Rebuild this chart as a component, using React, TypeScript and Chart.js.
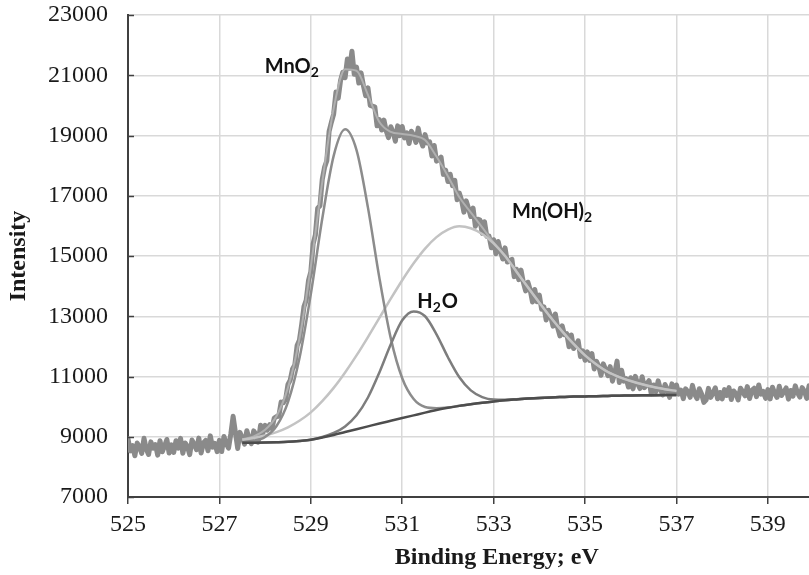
import React, { useEffect, useRef } from "react";
import { Chart, registerables } from "chart.js";

Chart.register(...registerables);

// Axis ticks
const X_TICKS = [525, 527, 529, 531, 533, 535, 537, 539];
const Y_TICKS = [7000, 9000, 11000, 13000, 15000, 17000, 19000, 21000, 23000];

// Measured spectrum: 525.00 eV to 540.00 eV, one reading every 0.05 eV (one row = 1 eV)
const SPECTRUM_START = 525;
const SPECTRUM_STEP = 0.05;
const SPECTRUM = [
  8930, 8530, 8710, 8370, 8790, 8670, 8450, 8950, 8590, 8410, 8830, 8620, 8740, 8390, 8870, 8500, 8690, 8910, 8460, 8730,
  8480, 8865, 8620, 8945, 8450, 8795, 8680, 8405, 8890, 8745, 8570, 8955, 8460, 8795, 8880, 8535, 9030, 8655, 8780, 8505,
  8880, 8510, 9010, 8770, 8620, 9095, 9680, 9145, 8610, 9145, 8970, 8755, 9200, 8925, 8770, 9195, 9070, 8820, 9380, 9115,
  9380, 9220, 9400, 9270, 9620, 9670, 9680, 10150, 10130, 10250, 10740, 10880, 11250, 11380, 12030, 12200, 12720, 13320, 13540, 14190,
  14470, 15400, 15700, 16590, 16670, 17540, 17940, 18160, 19140, 19440, 19710, 20440, 20240, 20820, 21100, 20920, 21540, 21230, 21800, 21030,
  21270, 20740, 21080, 20660, 20320, 20580, 20000, 19970, 19950, 19320, 19530, 19180, 19510, 19150, 18930, 19290, 19110, 18810, 19320, 18995,
  19300, 18920, 19090, 18735, 19140, 19005, 18770, 19245, 18860, 18650, 19030, 18750, 18790, 18320, 18670, 18150, 18190, 18280, 17710, 17850,
  17470, 17715, 17330, 17510, 16870, 17085, 16840, 16455, 16830, 16585, 16310, 16590, 15990, 16220, 16200, 15750, 16140, 15650, 15660, 15275,
  15540, 15075, 15480, 15145, 14900, 15270, 14800, 14845, 14890, 14315, 14560, 14215, 14530, 14125, 13840, 14130, 13870, 13475, 13890, 13480,
  13700, 13230, 13310, 12875, 13200, 12985, 12670, 13075, 12620, 12350, 12680, 12385, 12420, 11985, 12380, 11930, 12040, 12185, 11660, 11855,
  11540, 11820, 11535, 11760, 11250, 11505, 11340, 11040, 11420, 11235, 11025, 11330, 10845, 11110, 11510, 10800, 11210, 10845, 10925, 10650,
  10960, 10590, 11005, 10760, 10600, 10990, 10630, 10745, 10860, 10420, 10720, 10490, 10855, 10570, 10390, 10735, 10580, 10305, 10755, 10465,
  10720, 10415, 10550, 10265, 10590, 10490, 10310, 10705, 10410, 10265, 10595, 10420, 10140, 10225, 10605, 10305, 10450, 10625, 10260, 10470,
  10255, 10565, 10370, 10630, 10235, 10520, 10430, 10220, 10610, 10495, 10360, 10665, 10270, 10540, 10610, 10330, 10720, 10415, 10505, 10275,
  10565, 10255, 10645, 10440, 10305, 10675, 10370, 10495, 10620, 10250, 10535, 10345, 10690, 10455, 10315, 10630, 10510, 10275, 10690, 10445,
  10460,
];

// Fit components (energies in eV)
const FIT_ENERGY = [
  527.5, 527.75, 528, 528.25, 528.5, 528.75, 529, 529.25, 529.5, 529.75,
  530, 530.25, 530.5, 530.75, 531, 531.25, 531.5, 531.75, 532, 532.25,
  532.5, 532.75, 533, 533.25, 533.5, 533.75, 534, 534.25, 534.5, 534.75,
  535, 535.25, 535.5, 535.75, 536, 536.25, 536.5, 536.75, 537,
];
const BACKGROUND = [
  8800, 8800, 8805, 8815, 8830, 8860, 8900, 8975, 9060, 9155,
  9250, 9345, 9440, 9530, 9620, 9710, 9800, 9885, 9960, 10025,
  10080, 10130, 10170, 10210, 10240, 10268, 10290, 10307, 10320, 10332,
  10340, 10348, 10355, 10362, 10370, 10376, 10381, 10386, 10390,
];
const MNO2_FIT = [
  8814, 8855, 8993, 9355, 10150, 11595, 13735, 16235, 18325, 19205,
  18515, 16605, 14275, 12265, 10940, 10250, 9988, 9950, 9974, 10028,
  10080, 10130, 10170, 10210, 10240, 10268, 10290, 10307, 10320, 10332,
  10340, 10348, 10355, 10362, 10370, 10376, 10381, 10386, 10390,
];
const H2O_FIT = [
  8800, 8800, 8805, 8815, 8830, 8860, 8900, 8994, 9126, 9343,
  9711, 10302, 11133, 12070, 12865, 13160, 13000, 12400, 11640, 10975,
  10540, 10318, 10236, 10230, 10245, 10268, 10290, 10307, 10320, 10332,
  10340, 10348, 10355, 10362, 10370, 10376, 10381, 10386, 10390,
];
const MNOH2_FIT = [
  8903, 8957, 9039, 9154, 9313, 9530, 9809, 10181, 10622, 11134,
  11700, 12310, 12944, 13583, 14195, 14758, 15247, 15627, 15877, 15985,
  15920, 15730, 15420, 15000, 14480, 13960, 13450, 12960, 12500, 12080,
  11700, 11400, 11150, 10980, 10850, 10740, 10650, 10580, 10520,
];
const ENVELOPE = [
  8917, 9010, 9230, 9690, 10630, 12250, 14650, 17450, 19900, 21200,
  21150, 20350, 19450, 19120, 19050, 18990, 18850, 18300, 17650, 16950,
  16450, 15950, 15440, 15010, 14490, 13960, 13450, 12960, 12500, 12080,
  11700, 11400, 11150, 10980, 10850, 10740, 10650, 10580, 10520,
];

// Peak labels: [text, isSubscript] parts, anchored at left/baseline in data units
const PEAK_LABELS = [
  { parts: [["MnO", false], ["2", true]], x: 527.99, y: 21075 },
  { parts: [["Mn(OH)", false], ["2", true]], x: 533.4, y: 16261 },
  { parts: [["H", false], ["2", true], ["O", false]], x: 531.33, y: 13274 },
];

const X_TITLE = "Binding Energy; eV";
const X_TITLE_CENTER = 533.07;
const Y_TITLE = "Intensity";

const SERIF = '"Liberation Serif", "Times New Roman", serif';
const SANS = 'Lato, "Open Sans", sans-serif';

function pts(xs: number[], ys: number[]) {
  return ys.map((v, i) => ({ x: xs[i], y: v }));
}

const overlay = {
  id: "overlay",
  afterDraw(chart: any) {
    const { ctx, chartArea } = chart;
    const x = chart.scales.x;
    const y = chart.scales.y;
    ctx.save();
    // inside tick marks on the y axis
    ctx.strokeStyle = "#404040";
    ctx.lineWidth = 1.5;
    Y_TICKS.forEach((v) => {
      const py = Math.round(y.getPixelForValue(v)) + 0.5;
      ctx.beginPath();
      ctx.moveTo(chartArea.left, py);
      ctx.lineTo(chartArea.left + 6, py);
      ctx.stroke();
    });
    // peak labels
    ctx.fillStyle = "#111";
    ctx.textBaseline = "alphabetic";
    ctx.textAlign = "left";
    PEAK_LABELS.forEach((l) => {
      let px = x.getPixelForValue(l.x);
      const py = y.getPixelForValue(l.y);
      l.parts.forEach(([t, sub]: any) => {
        ctx.font = sub ? `bold 14px ${SANS}` : `bold 20px ${SANS}`;
        ctx.fillText(t, px, sub ? py + 4 : py);
        px += ctx.measureText(t).width + (sub ? 1 : 0);
      });
    });
    // x axis title
    ctx.font = `bold 24px ${SERIF}`;
    ctx.textAlign = "center";
    ctx.fillStyle = "#1a1a1a";
    ctx.fillText(X_TITLE, x.getPixelForValue(X_TITLE_CENTER), 564);
    ctx.restore();
  },
};

export default function App() {
  const ref = useRef<HTMLCanvasElement>(null);
  useEffect(() => {
    document.body.style.margin = "0";
    const canvas = ref.current!;
    const spectrum = SPECTRUM.map((v, i) => ({
      x: SPECTRUM_START + i * SPECTRUM_STEP,
      y: v,
    }));
    const chart = new Chart(canvas, {
      type: "line",
      data: {
        datasets: [
          {
            data: pts(FIT_ENERGY, BACKGROUND),
            borderColor: "#4d4d4d",
            borderWidth: 2.5,
            cubicInterpolationMode: "monotone",
            order: 0,
          },
          {
            data: pts(FIT_ENERGY, H2O_FIT),
            borderColor: "#7d7d7d",
            borderWidth: 2.5,
            cubicInterpolationMode: "monotone",
            order: 1,
          },
          {
            data: pts(FIT_ENERGY, MNO2_FIT),
            borderColor: "#8c8c8c",
            borderWidth: 2.5,
            cubicInterpolationMode: "monotone",
            order: 2,
          },
          {
            data: pts(FIT_ENERGY, MNOH2_FIT),
            borderColor: "#c3c3c3",
            borderWidth: 2.5,
            cubicInterpolationMode: "monotone",
            order: 3,
          },
          {
            data: pts(FIT_ENERGY, ENVELOPE),
            borderColor: "#b0b0b0",
            borderWidth: 2,
            cubicInterpolationMode: "monotone",
            order: 4,
          },
          {
            data: spectrum,
            borderColor: "#8a8a8a",
            borderWidth: 5,
            borderJoinStyle: "round",
            borderCapStyle: "round",
            tension: 0,
            order: 5,
          },
        ] as any,
      },
      options: {
        animation: false,
        responsive: false,
        devicePixelRatio: 1,
        parsing: false as any,
        layout: { padding: { top: 15, right: 0, left: 0, bottom: 0 } },
        elements: { point: { radius: 0 } },
        plugins: { legend: { display: false }, tooltip: { enabled: false } },
        scales: {
          x: {
            type: "linear",
            min: 525,
            max: 539.9,
            afterBuildTicks: (s: any) => {
              s.ticks = X_TICKS.map((v) => ({ value: v }));
            },
            afterFit: (s: any) => {
              s.height = 78;
              s.paddingLeft = 0;
              s.paddingRight = 0;
            },
            grid: {
              color: "#d9d9d9",
              lineWidth: 1.5,
              tickColor: "#404040",
              tickLength: 7,
              tickWidth: 1.5,
            },
            border: { color: "#404040", width: 2 },
            ticks: {
              font: { family: SERIF, size: 24 },
              color: "#1a1a1a",
              padding: 6,
              maxRotation: 0,
              autoSkip: false,
              callback: (v: any) => String(v),
            },
          },
          y: {
            type: "linear",
            min: 7000,
            max: 23000,
            afterBuildTicks: (s: any) => {
              s.ticks = Y_TICKS.map((v) => ({ value: v }));
            },
            afterFit: (s: any) => {
              s.width = 128;
              s.paddingTop = 0;
              s.paddingBottom = 0;
            },
            grid: { color: "#d9d9d9", lineWidth: 1.5, drawTicks: false },
            border: { color: "#404040", width: 2 },
            ticks: {
              font: { family: SERIF, size: 24 },
              color: "#1a1a1a",
              padding: 20,
              autoSkip: false,
              callback: (v: any) => String(v),
            },
            title: {
              display: true,
              text: Y_TITLE,
              font: { family: SERIF, size: 24, weight: "bold" },
              color: "#1a1a1a",
              padding: { top: 4.6, bottom: 0 },
            },
          },
        },
      },
      plugins: [overlay],
    });
    return () => chart.destroy();
  }, []);
  return (
    <canvas
      ref={ref}
      width={809}
      height={575}
      style={{ display: "block", width: 809, height: 575 }}
    />
  );
}
